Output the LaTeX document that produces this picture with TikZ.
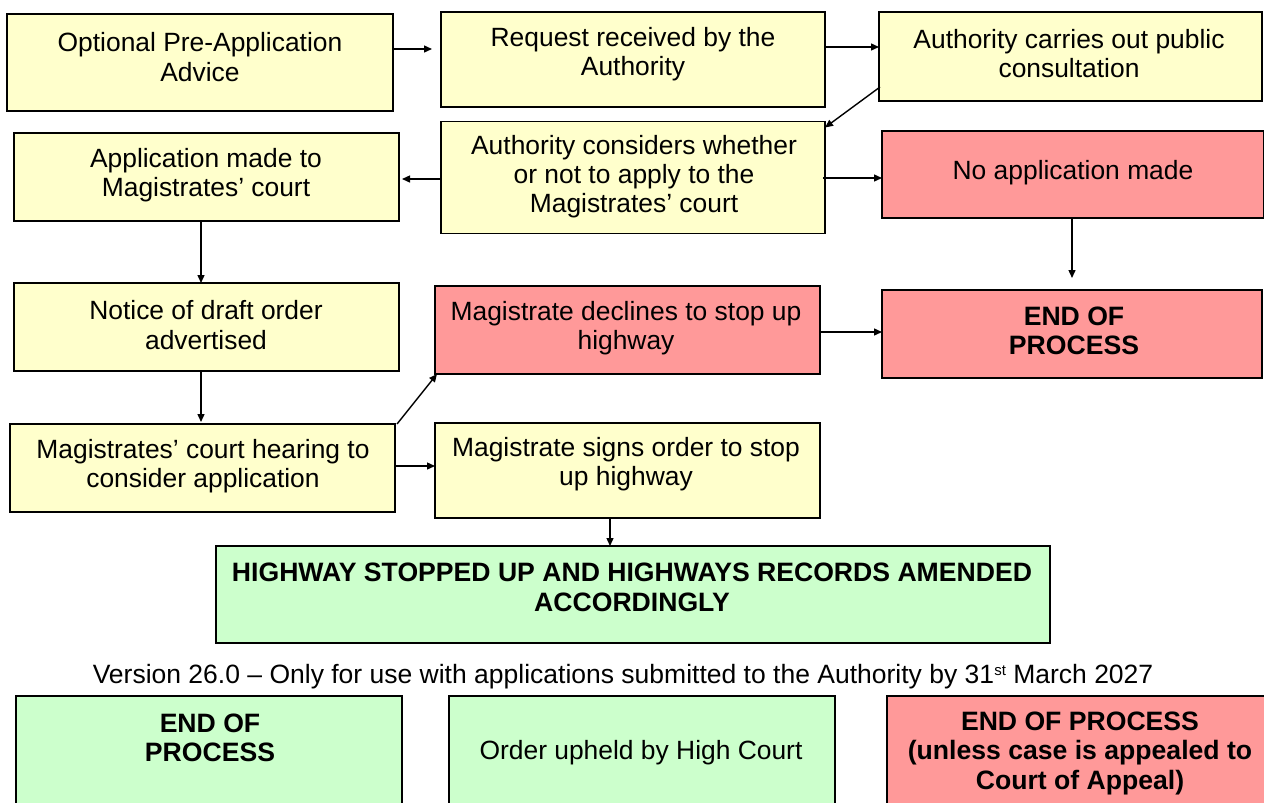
\documentclass[tikz,border=0pt]{standalone}
\usepackage{fontspec}
\setmainfont{Liberation Sans}
\usetikzlibrary{arrows.meta}
\definecolor{boxyellow}{HTML}{FFFFCC}
\definecolor{boxred}{HTML}{FF9999}
\definecolor{boxgreen}{HTML}{CCFFCC}
\begin{document}
\begin{tikzpicture}[x=1pt,y=-1pt,
  box/.style={draw=black, line width=1.8pt, inner sep=0pt, outer sep=0pt},
  ybox/.style={box, fill=boxyellow},
  rbox/.style={box, fill=boxred},
  gbox/.style={box, fill=boxgreen},
  txt/.style={align=center, font=\fontsize{26.4}{29.3}\selectfont, inner sep=0pt},
  btxt/.style={align=center, font=\fontsize{26.6}{29.5}\selectfont\bfseries, inner sep=0pt},
  arr/.style={line width=1.4pt, -{Triangle[length=8pt,width=7pt]}}]
\clip (0,0) rectangle (1264,803);
\fill[white] (0,0) rectangle (1264,803);

% Row 1
\node[ybox, minimum width=386pt, minimum height=97pt] (b1) at (200,62.5) {};
\node[txt] (t1) at (200,57) {Optional Pre-Application\\Advice};
\node[ybox, minimum width=384pt, minimum height=95pt] (b2) at (633,59.5) {};
\node[txt] (t2) at (633,54) {Request received by the\\Authority};
\node[ybox, minimum width=383pt, minimum height=89pt] (b3) at (1070.5,56.5) {};
\node[txt] (t3) at (1069,53.5) {Authority carries out public\\consultation};

% Row 2
\node[ybox, minimum width=385pt, minimum height=88pt] (b5) at (206.5,177) {};
\node[txt] (t5) at (206,175) {Application made to\\Magistrates' court};
\node[ybox, minimum width=384pt, minimum height=112pt] (b4) at (633,177.5) {};
\node[txt] (t4) at (634,176.5) {Authority considers whether\\or not to apply to the\\Magistrates' court};
\node[rbox, minimum width=382pt, minimum height=87pt] (b6) at (1073,174.5) {};
\node[txt] (t6) at (1073,173) {No application made};

% Row 3
\node[ybox, minimum width=385pt, minimum height=88pt] (b7) at (206.5,327) {};
\node[txt] (t7) at (206,325) {Notice of draft order\\advertised};
\node[rbox, minimum width=385pt, minimum height=88pt] (b8) at (627.5,330) {};
\node[txt] (t8) at (626,328) {Magistrate declines to stop up\\highway};
\node[rbox, minimum width=380pt, minimum height=88pt] (b9) at (1072,334) {};
\node[btxt] (t9) at (1074,331) {END OF\\PROCESS};

% Row 4
\node[ybox, minimum width=385pt, minimum height=88pt] (b10) at (202.5,468) {};
\node[txt] (t10) at (203,466) {Magistrates' court hearing to\\consider application};
\node[ybox, minimum width=385pt, minimum height=95pt] (b11) at (627.5,470.5) {};
\node[txt] (t11) at (626,464) {Magistrate signs order to stop\\up highway};

% Row 5
\node[gbox, minimum width=834pt, minimum height=97pt] (b12) at (633,594.5) {};
\node[btxt] (t12) at (632,587.5) {HIGHWAY STOPPED UP AND HIGHWAYS RECORDS AMENDED\\ACCORDINGLY};

\node[txt, font=\fontsize{26.5}{29}\selectfont] (ver) at (623,677) {Version 26.0 -- Only for use with applications submitted to the Authority by 31\raisebox{8pt}{\fontsize{15}{15}\selectfont st} March 2027};

% Row 6
\node[gbox, minimum width=386pt, minimum height=140pt] (b13) at (209,766) {};
\node[btxt] (t13) at (210,738) {END OF\\PROCESS};
\node[gbox, minimum width=386pt, minimum height=140pt] (b14) at (642,766) {};
\node[txt] (t14) at (641,753) {Order upheld by High Court};
\node[rbox, minimum width=390pt, minimum height=140pt] (b15) at (1082,766) {};
\node[btxt] (t15) at (1080,753) {END OF PROCESS\\(unless case is appealed to\\Court of Appeal)};

% Connectors
\draw[arr] ([yshift=13.5pt]b1.east) -- ([xshift=-9pt,yshift=10.5pt]b2.west);
\draw[arr] ([yshift=12.5pt]b2.east) -- ([yshift=9.5pt]b3.west);
\draw[arr] ([xshift=1pt,yshift=14pt]b3.south west) -- ([yshift=-6pt]b4.north east);
\draw[arr] ([yshift=-1.5pt]b4.west) -- ([xshift=3pt,yshift=-2pt]b5.east);
\draw[arr] ([xshift=-2pt,yshift=-0.5pt]b4.east) -- ([yshift=-3.5pt]b6.west);
\draw[arr] ([xshift=-1pt]b6.south) -- ([yshift=12pt]b9.north);
\draw[arr] ([xshift=-5.5pt]b5.south) -- ([xshift=-5.5pt]b7.north);
\draw[arr] ([xshift=-5.5pt]b7.south) -- ([xshift=-1.5pt,yshift=2pt]b10.north);
\draw[arr] ([xshift=2pt]b10.north east) -- ([xshift=2pt]b8.south west);
\draw[arr] ([yshift=2pt]b10.east) -- ([yshift=4.5pt]b11.west);
\draw[arr] ([yshift=-2pt]b8.east) -- ([yshift=2pt]b9.west);
\draw[arr] ([xshift=-17.5pt]b11.south) -- ([xshift=-23pt]b12.north);
\end{tikzpicture}
\end{document}
